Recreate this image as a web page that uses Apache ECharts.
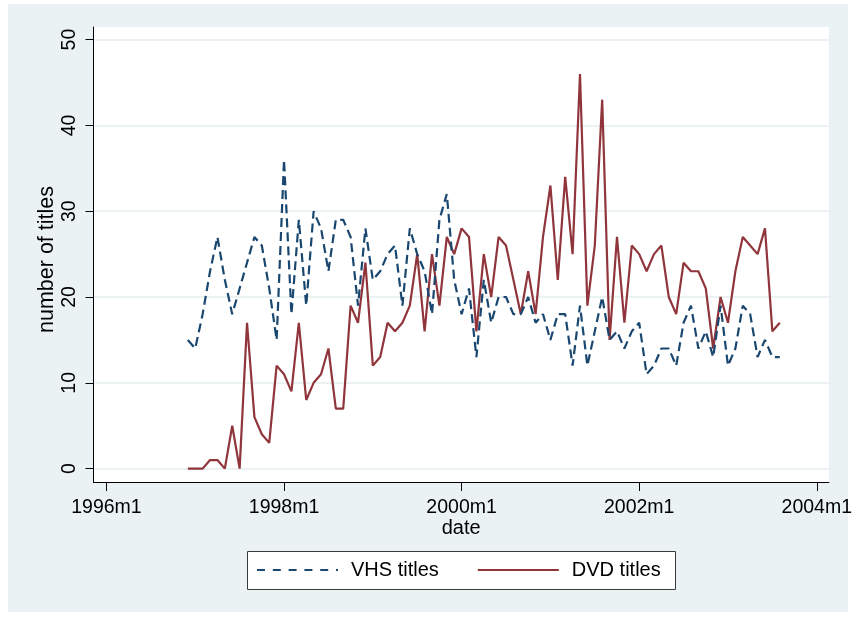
<!DOCTYPE html>
<html>
<head>
<meta charset="utf-8">
<script src="https://cdn.jsdelivr.net/npm/echarts@6/dist/echarts.min.js"></script>
<style>
  html, body { margin: 0; padding: 0; background: #ffffff; }
  #chart { width: 855px; height: 617px; }
</style>
</head>
<body>
<div id="chart"></div>
<script>
// ---- data ----
const firstDate = '1996m12';
const lastDate = '2003m8';
const vhsTitles = [15, 14, 18, 23, 27, 22, 18, 21, 24, 27, 26, 21, 15, 36, 18, 29, 19, 30, 28, 23,
  29, 29, 27, 19, 28, 22, 23, 25, 26, 19, 28, 25, 23, 18, 29, 32, 22, 18, 21, 13,
  22, 17, 20, 20, 18, 18, 20, 17, 18, 15, 18, 18, 12, 19, 12, 16, 20, 15, 16, 14,
  16, 17, 11, 12, 14, 14, 12, 17, 19, 14, 16, 13, 19, 12, 14, 19, 18, 13, 15, 13, 13];
const dvdTitles = [0, 0, 0, 1, 1, 0, 5, 0, 17, 6, 4, 3, 12, 11, 9, 17, 8, 10, 11, 14,
  7, 7, 19, 17, 24, 12, 13, 17, 16, 17, 19, 25, 16, 25, 19, 27, 25, 28, 27, 16,
  25, 20, 27, 26, 22, 18, 23, 18, 27, 33, 22, 34, 25, 46, 19, 26, 43, 15, 27, 17,
  26, 25, 23, 25, 26, 20, 18, 24, 23, 23, 21, 14, 20, 17, 23, 27, 26, 25, 28, 16, 17];
const xTickLabels = ['1996m1', '1998m1', '2000m1', '2002m1', '2004m1'];
const yTickValues = [0, 10, 20, 30, 40, 50];
const seriesNames = ['VHS titles', 'DVD titles'];

// monthly dates as Stata-style labels
function toMonthIndex(s) {           // months since 1996m1
  const p = s.split('m');
  return (parseInt(p[0], 10) - 1996) * 12 + (parseInt(p[1], 10) - 1);
}
const dates = [];
for (let k = toMonthIndex(firstDate); k <= toMonthIndex(lastDate); k++) {
  dates.push((1996 + Math.floor(k / 12)) + 'm' + (k % 12 + 1));
}
const xTickValues = xTickLabels.map(toMonthIndex);

const FONT = '"Liberation Sans", Arial, Helvetica, sans-serif';
const chart = echarts.init(document.getElementById('chart'), null, { renderer: 'canvas' });

chart.setOption({
  backgroundColor: 'transparent',
  animation: false,
  graphic: {
    elements: [
      { type: 'rect', z: -20, silent: true, shape: { x: 8, y: 4, width: 840, height: 608 },
        style: { fill: '#EAF2F3' } },
      { type: 'rect', z: -10, silent: true, shape: { x: 247.5, y: 551.5, width: 428, height: 38 },
        style: { fill: '#ffffff', stroke: '#3a3a3a', lineWidth: 1 } }
    ]
  },
  grid: {
    left: 93.5, top: 27, width: 737, height: 455,
    show: true, backgroundColor: '#ffffff', borderWidth: 0, containLabel: false
  },
  legend: {
    left: 256, top: 560,
    padding: 0,
    itemGap: 38,
    itemWidth: 81, itemHeight: 14,
    itemStyle: { opacity: 0 },
    data: [
      { name: seriesNames[0], lineStyle: { type: [8, 7.8] } },
      { name: seriesNames[1] }
    ],
    textStyle: { fontFamily: FONT, fontSize: 20, color: '#000', padding: [0, 0, 0, 8] }
  },
  xAxis: {
    type: 'value',
    min: -1.75, max: 97.63,
    name: 'date', nameLocation: 'middle', nameGap: 36, nameMoveOverlap: false,
    nameTextStyle: { fontFamily: FONT, fontSize: 20, color: '#000' },
    axisLine: { onZero: false, lineStyle: { color: '#000', width: 1 } },
    axisTick: { customValues: xTickValues, length: 9, lineStyle: { color: '#000' } },
    axisLabel: {
      customValues: xTickValues, margin: 16,
      fontFamily: FONT, fontSize: 19.5, color: '#000',
      formatter: v => xTickLabels[xTickValues.indexOf(Math.round(v))] || ''
    },
    splitLine: { show: false }
  },
  yAxis: {
    type: 'value',
    min: -1.56, max: 51.47,
    name: 'number of titles', nameLocation: 'middle', nameGap: 35, nameMoveOverlap: false,
    nameTextStyle: { fontFamily: FONT, fontSize: 21.5, color: '#000', padding: [0, 10, 0, 0] },
    axisLine: { show: true, onZero: false, lineStyle: { color: '#000', width: 1 } },
    axisTick: { show: true, customValues: yTickValues, length: 8, lineStyle: { color: '#000' } },
    axisLabel: {
      customValues: yTickValues, rotate: 90, margin: 14,
      fontFamily: FONT, fontSize: 19.5, color: '#000'
    },
    splitLine: { show: true, lineStyle: { color: '#EAF2F3', width: 2 } }
  },
  series: [
    {
      name: seriesNames[0], type: 'line', symbol: 'none', smooth: false,
      data: dates.map((d, i) => [toMonthIndex(d), vhsTitles[i]]),
      lineStyle: { color: '#1A476F', width: 2.2, type: [9, 5] },
      itemStyle: { color: '#1A476F' }, z: 3
    },
    {
      name: seriesNames[1], type: 'line', symbol: 'none', smooth: false,
      data: dates.map((d, i) => [toMonthIndex(d), dvdTitles[i]]),
      lineStyle: { color: '#90353B', width: 2.2, type: 'solid' },
      itemStyle: { color: '#90353B' }, z: 2
    }
  ]
});
</script>
</body>
</html>
